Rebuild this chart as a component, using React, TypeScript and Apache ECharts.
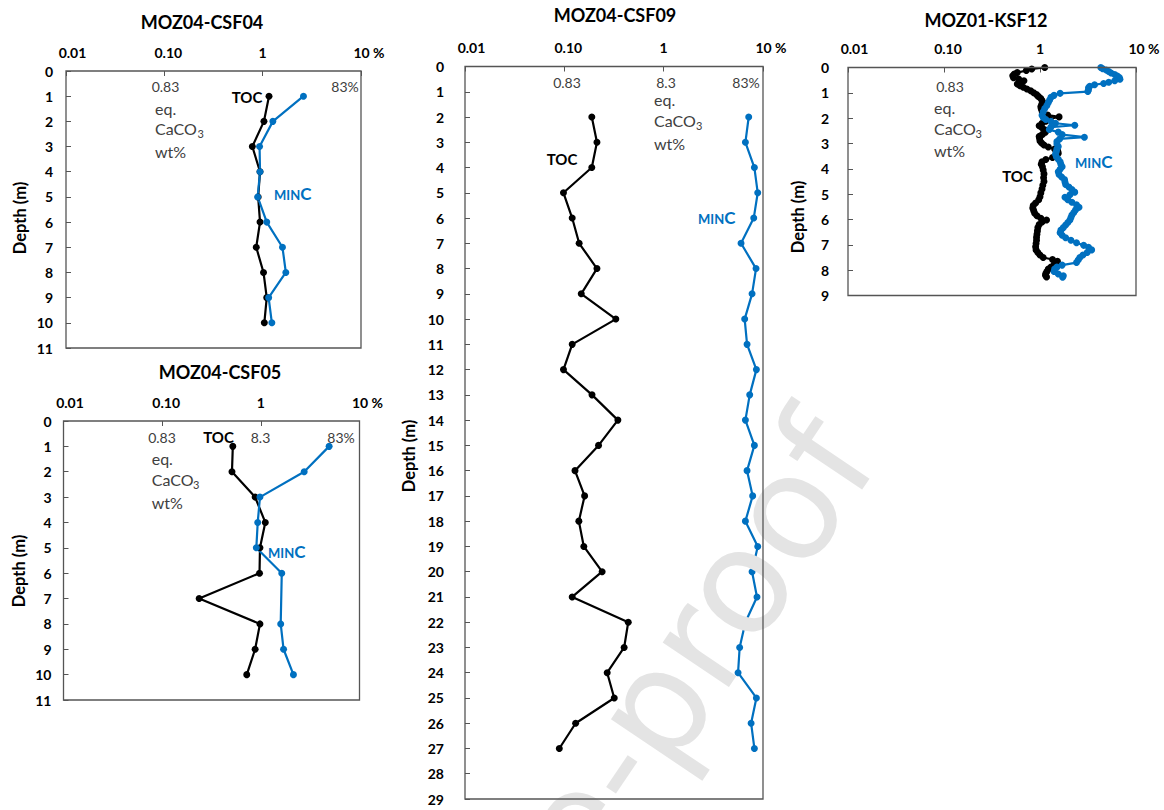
import React, { useEffect, useRef } from "react";
import * as echarts from "echarts";

// ---- MOZ04-CSF04 ----
const csf04Depth = [1, 2, 3, 4, 5, 6, 7, 8, 9, 10];
const csf04Toc = [1.16, 1.03, 0.785, 0.94, 0.9, 0.94, 0.86, 1.02, 1.1, 1.04];
const csf04Minc = [2.6, 1.27, 0.93, 0.94, 0.89, 1.1, 1.59, 1.72, 1.15, 1.24];

// ---- MOZ04-CSF05 ----
const csf05TocDepth = [1, 2, 3, 4, 5, 6, 7, 8, 9, 10];
const csf05Toc = [0.52, 0.51, 0.875, 1.11, 0.98, 0.97, 0.237, 0.98, 0.875, 0.72];
const csf05MincDepth = [1, 2, 3, 4, 5, 6, 8, 9, 10];
const csf05Minc = [4.92, 2.75, 0.98, 0.93, 0.9, 1.63, 1.59, 1.7, 2.14];

// ---- MOZ04-CSF09 ----
const csf09Depth = [2, 3, 4, 5, 6, 7, 8, 9, 10, 11, 12, 13, 14, 15, 16, 17, 18, 19, 20, 21, 22, 23, 24, 25, 26, 27];
const csf09Toc = [0.189, 0.213, 0.189, 0.098, 0.12, 0.141, 0.213, 0.148, 0.33, 0.12, 0.098, 0.19, 0.346, 0.221, 0.128, 0.16, 0.14, 0.157, 0.24, 0.12, 0.44, 0.4, 0.27, 0.318, 0.13, 0.089];
const csf09Minc = [7.18, 6.65, 8.19, 8.85, 8.07, 6.01, 8.51, 7.76, 6.54, 6.91, 8.58, 7.35, 6.65, 8.19, 6.91, 7.87, 6.65, 8.85, 7.76, 8.7, 6.65, 5.82, 5.61, 8.58, 7.59, 8.19];

// ---- MOZ01-KSF12 ----
const ksf12TocDepth = [0.0, 0.06, 0.12, 0.2, 0.26, 0.33, 0.4, 0.46, 0.52, 0.58, 0.65, 0.72, 0.78, 0.85, 0.92, 1.0, 1.07, 1.14, 1.22, 1.3, 1.38, 1.46, 1.55, 1.63, 1.72, 1.8, 1.88, 1.95, 2.03, 2.12, 2.2, 2.3, 2.38, 2.46, 2.55, 2.64, 2.72, 2.8, 2.9, 2.98, 3.06, 3.14, 3.22, 3.3, 3.38, 3.46, 3.55, 3.63, 3.72, 3.82, 3.92, 4.05, 4.2, 4.35, 4.5, 4.65, 4.8, 4.95, 5.1, 5.22, 5.35, 5.45, 5.55, 5.65, 5.75, 5.85, 5.95, 6.02, 6.1, 6.2, 6.32, 6.45, 6.58, 6.7, 6.82, 6.95, 7.08, 7.2, 7.3, 7.4, 7.5, 7.58, 7.65, 7.72, 7.8, 7.88, 7.96, 8.05, 8.13, 8.2, 8.27];
const ksf12Toc = [1.12, 0.82, 0.72, 0.58, 0.54, 0.52, 0.53, 0.6, 0.68, 0.62, 0.58, 0.62, 0.67, 0.73, 0.8, 0.86, 0.92, 0.96, 1.02, 1.05, 1.07, 1.04, 1.02, 1.03, 1.05, 1.06, 1.2, 1.58, 1.25, 1.15, 1.05, 0.98, 1.05, 1.12, 1.14, 1.06, 0.98, 0.99, 1.0, 1.04, 1.1, 1.22, 1.42, 1.53, 1.55, 1.5, 1.35, 1.15, 1.05, 1.03, 1.06, 1.08, 1.1, 1.09, 1.1, 1.07, 1.05, 1.02, 1.0, 0.97, 0.9, 0.85, 0.84, 0.86, 0.88, 0.93, 1.02, 1.17, 1.05, 0.98, 0.95, 0.94, 0.93, 0.92, 0.92, 0.91, 0.9, 0.91, 0.95, 1.0, 1.08, 1.35, 1.52, 1.5, 1.4, 1.3, 1.22, 1.18, 1.15, 1.14, 1.17];
const ksf12MincDepth = [0.0, 0.05, 0.1, 0.16, 0.22, 0.28, 0.34, 0.4, 0.46, 0.52, 0.58, 0.63, 0.68, 0.74, 0.8, 0.88, 0.95, 1.02, 1.1, 1.18, 1.28, 1.38, 1.5, 1.62, 1.75, 1.88, 1.97, 2.05, 2.12, 2.2, 2.28, 2.35, 2.45, 2.55, 2.65, 2.75, 2.82, 2.92, 3.02, 3.12, 3.22, 3.32, 3.42, 3.52, 3.62, 3.72, 3.82, 3.92, 4.02, 4.12, 4.22, 4.32, 4.42, 4.52, 4.62, 4.72, 4.82, 4.92, 5.02, 5.12, 5.22, 5.32, 5.42, 5.52, 5.62, 5.72, 5.82, 5.92, 6.02, 6.12, 6.22, 6.32, 6.42, 6.52, 6.62, 6.72, 6.82, 6.92, 7.02, 7.1, 7.2, 7.3, 7.4, 7.5, 7.6, 7.7, 7.8, 7.88, 7.96, 8.05, 8.15, 8.22, 8.28];
const ksf12Minc = [4.3, 4.5, 4.9, 5.2, 5.5, 6.0, 6.4, 6.7, 6.8, 6.0, 5.2, 4.6, 3.7, 3.3, 3.2, 3.2, 3.15, 1.62, 1.4, 1.3, 1.26, 1.22, 1.18, 1.12, 1.08, 1.05, 1.08, 1.15, 1.3, 1.45, 2.3, 1.3, 1.25, 1.55, 1.7, 2.9, 1.6, 1.5, 1.5, 1.55, 1.5, 1.48, 1.45, 1.48, 1.55, 1.62, 1.65, 1.7, 1.62, 1.55, 1.58, 1.68, 1.8, 1.82, 1.85, 2.0, 2.15, 2.3, 2.05, 1.82, 1.95, 2.15, 2.4, 2.55, 2.35, 2.25, 2.15, 2.1, 2.05, 1.95, 1.85, 1.75, 1.65, 1.62, 1.7, 1.85, 2.1, 2.4, 2.85, 3.2, 3.45, 3.1, 2.8, 2.6, 2.5, 2.4, 1.7, 1.5, 1.42, 1.4, 1.55, 1.75, 1.72];

const TOC_COLOR = "#000000";
const MINC_COLOR = "#0070C0";
const FRAME_COLOR = "#555555";
const NOTE_COLOR = "#404040";
const FONT = "Lato, 'Open Sans', sans-serif";

type Panel = {
  title: string;
  left: number;
  top: number;
  width: number;
  height: number;
  maxDepth: number;
  labelMargin: number;
  toc: number[][];
  minc: number[][];
};

const pairs = (values: number[], depths: number[]) => values.map((v, i) => [v, depths[i]]);

const panels: Panel[] = [
  { title: "MOZ04-CSF04", left: 66, top: 71, width: 295, height: 277, maxDepth: 11, labelMargin: 13, toc: pairs(csf04Toc, csf04Depth), minc: pairs(csf04Minc, csf04Depth) },
  { title: "MOZ04-CSF05", left: 63.5, top: 421, width: 296, height: 279, maxDepth: 11, labelMargin: 12, toc: pairs(csf05Toc, csf05TocDepth), minc: pairs(csf05Minc, csf05MincDepth) },
  { title: "MOZ04-CSF09", left: 465, top: 66.5, width: 298, height: 732.5, maxDepth: 29, labelMargin: 21, toc: pairs(csf09Toc, csf09Depth), minc: pairs(csf09Minc, csf09Depth) },
  { title: "MOZ01-KSF12", left: 848, top: 67.5, width: 288, height: 228, maxDepth: 9, labelMargin: 19, toc: pairs(ksf12Toc, ksf12TocDepth), minc: pairs(ksf12Minc, ksf12MincDepth) },
];

// titles and "Depth (m)" captions
const titlePos = [
  [202, 22],
  [220, 372],
  [615, 15],
  [986, 20],
];
const depthCaptionPos = [
  [20, 218],
  [19, 571],
  [409, 456],
  [798, 217],
];

// annotation texts: [text, x, y, align]
type Note = [string, number, number, string];
const numberNotes: Note[] = [
  ["0.83", 165.5, 86, "center"],
  ["83%", 345, 86, "center"],
  ["0.83", 162, 437, "center"],
  ["8.3", 260.5, 437, "center"],
  ["83%", 341, 437, "center"],
  ["0.83", 567, 82, "center"],
  ["8.3", 666, 82, "center"],
  ["83%", 746, 82, "center"],
  ["0.83", 950, 86, "center"],
];
// [x of left edge, y of "eq." line, y of "CaCO3" line, y of "wt%" line, x of subscript]
const unitNotes = [
  [155, 108, 128, 151, 197.5],
  [151.7, 458, 479, 502, 193],
  [654, 99, 120, 143, 696],
  [934, 107, 128, 150, 975.5],
];
const tocLabels = [
  [247, 97],
  [218.5, 437],
  [562, 159],
  [1017.5, 176],
];
const mincLabels = [
  [274, 193],
  [268, 551],
  [698, 217],
  [1075, 161],
];

function topLabel(v: number) {
  const e = Math.round(Math.log10(v));
  if (e === -2) return "{s1| }{b|0.01}";
  if (e === -1) return "{s2| }{b|0.10}";
  if (e === 0) return "{b|1}";
  return "{s3| }{b|10 %}";
}

function buildOption() {
  const grid: any[] = [];
  const xAxis: any[] = [];
  const yAxis: any[] = [];
  const series: any[] = [];
  const elements: any[] = [];

  panels.forEach((p, i) => {
    grid.push({ left: p.left, top: p.top, width: p.width, height: p.height, show: false });
    xAxis.push({
      type: "log",
      logBase: 10,
      gridIndex: i,
      position: "top",
      min: 0.01,
      max: 10,
      axisLine: { show: false },
      splitLine: { show: false },
      axisTick: { show: true, inside: true, length: 5, lineStyle: { color: FRAME_COLOR, width: 1 } },
      axisLabel: {
        margin: 12,
        formatter: topLabel,
        rich: {
          b: { fontFamily: FONT, fontWeight: "bold", fontSize: 14, color: "#000" },
          s1: { width: 13 },
          s2: { width: 8 },
          s3: { width: 16 },
        },
      },
    });
    yAxis.push({
      type: "value",
      gridIndex: i,
      inverse: true,
      min: 0,
      max: p.maxDepth,
      interval: 1,
      axisLine: { show: false },
      splitLine: { show: false },
      axisTick: { show: true, inside: true, length: 5, lineStyle: { color: FRAME_COLOR, width: 1 } },
      axisLabel: { margin: p.labelMargin, fontFamily: FONT, fontWeight: "bold", fontSize: 14, color: "#000" },
    });
    series.push({
      name: "TOC",
      type: "line",
      xAxisIndex: i,
      yAxisIndex: i,
      data: p.toc,
      symbol: "circle",
      symbolSize: 7,
      lineStyle: { color: TOC_COLOR, width: 2.2 },
      itemStyle: { color: TOC_COLOR },
    });
    series.push({
      name: "MINC",
      type: "line",
      xAxisIndex: i,
      yAxisIndex: i,
      data: p.minc,
      symbol: "circle",
      symbolSize: 7,
      lineStyle: { color: MINC_COLOR, width: 2.2 },
      itemStyle: { color: MINC_COLOR },
    });

    // plot frame
    elements.push({
      type: "rect",
      silent: true,
      z: 60,
      shape: { x: p.left, y: p.top, width: p.width, height: p.height },
      style: { fill: "none", stroke: FRAME_COLOR, lineWidth: 1.3 },
    });
    elements.push({
      type: "text",
      x: titlePos[i][0],
      y: titlePos[i][1],
      style: { text: p.title, fontFamily: FONT, fontWeight: "bold", fontSize: 18, fill: "#000", textAlign: "center", textVerticalAlign: "middle" },
    });
    elements.push({
      type: "text",
      x: depthCaptionPos[i][0],
      y: depthCaptionPos[i][1],
      rotation: Math.PI / 2,
      style: { text: "Depth (m)", fontFamily: FONT, fontWeight: "bold", fontSize: 16.5, fill: "#000", textAlign: "center", textVerticalAlign: "middle" },
    });
    const u = unitNotes[i];
    const word = { fontFamily: FONT, fontSize: 16, fill: NOTE_COLOR, textAlign: "left", textVerticalAlign: "middle" };
    elements.push({ type: "text", x: u[0], y: u[1], style: { ...word, text: "eq." } });
    elements.push({ type: "text", x: u[0], y: u[2], style: { ...word, text: "CaCO" } });
    elements.push({ type: "text", x: u[4], y: u[2] + 5, style: { ...word, fontSize: 11, text: "3" } });
    elements.push({ type: "text", x: u[0], y: u[3], style: { ...word, text: "wt%" } });
    elements.push({
      type: "text",
      x: tocLabels[i][0],
      y: tocLabels[i][1],
      style: { text: "TOC", fontFamily: FONT, fontWeight: "bold", fontSize: 15, fill: "#000", textAlign: "center", textVerticalAlign: "middle" },
    });
    elements.push({
      type: "text",
      x: mincLabels[i][0],
      y: mincLabels[i][1],
      style: {
        text: "{a|MIN}{c|C}",
        textAlign: "left",
        textVerticalAlign: "middle",
        rich: {
          a: { fontFamily: FONT, fontWeight: "bold", fontSize: 13, fill: MINC_COLOR, verticalAlign: "bottom" },
          c: { fontFamily: FONT, fontWeight: "bold", fontSize: 17, fill: MINC_COLOR, verticalAlign: "bottom" },
        },
      },
    });
  });

  numberNotes.forEach(([text, x, y, align]) => {
    elements.push({
      type: "text",
      x,
      y,
      style: { text, fontFamily: FONT, fontSize: 14, fill: NOTE_COLOR, textAlign: align, textVerticalAlign: "middle" },
    });
  });

  // journal watermark across the lower middle
  elements.push({
    type: "text",
    x: 840,
    y: 432,
    rotation: (56 * Math.PI) / 180,
    silent: true,
    z: 50,
    style: {
      text: "Journal Pre-proof",
      fontFamily: "'DejaVu Sans', sans-serif",
      fontSize: 146,
      fill: "#e4e4e4",
      textAlign: "right",
      textVerticalAlign: "middle",
    },
  });

  return {
    animation: false,
    backgroundColor: "#ffffff",
    grid,
    xAxis,
    yAxis,
    series,
    graphic: { elements },
  };
}

export default function App() {
  const ref = useRef<HTMLDivElement>(null);
  useEffect(() => {
    if (!ref.current) return;
    const chart = echarts.init(ref.current, undefined, { renderer: "svg" });
    chart.setOption(buildOption() as any);
    return () => chart.dispose();
  }, []);
  return <div ref={ref} style={{ position: "absolute", left: 0, top: 0, width: 1164, height: 810 }} />;
}
